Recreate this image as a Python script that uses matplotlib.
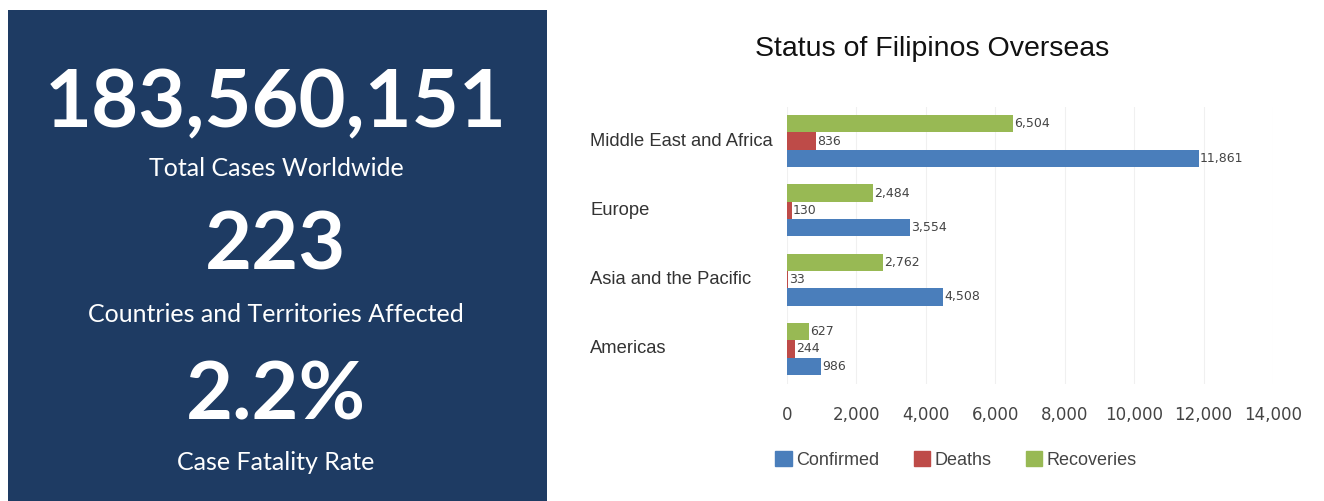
from matplotlib import pyplot as plt
import matplotlib.patches as mpatches
import numpy as np

# data
regions = ["Americas", "Asia and the Pacific", "Europe", "Middle East and Africa"]
confirmed = [986, 4508, 3554, 11861]
deaths = [244, 33, 130, 836]
recoveries = [627, 2762, 2484, 6504]
series_names = ["Confirmed", "Deaths", "Recoveries"]
colors = ["#4a7ebb", "#be4b48", "#98b954"]

big_numbers = ["183,560,151", "223", "2.2%"]
big_captions = ["Total Cases Worldwide", "Countries and Territories Affected", "Case Fatality Rate"]

W, H = 1324, 501
fig = plt.figure(figsize=(W / 100, H / 100), dpi=100)
fig.patch.set_facecolor("white")

narrow = ["Liberation Sans", "DejaVu Sans"]

# left dark panel
panel = fig.add_axes([8 / W, 0, (547 - 8) / W, (501 - 10) / H])
panel.set_facecolor("#1e3b63")
panel.set_xticks([])
panel.set_yticks([])
for s in panel.spines.values():
    s.set_visible(False)

num_y = [104, 247, 397]
cap_y = [168, 315, 462]
for num, cap, ny, cy in zip(big_numbers, big_captions, num_y, cap_y):
    fig.text(276 / W, 1 - ny / H, num, color="white", fontsize=58.5, fontweight="bold",
             family=["Lato", "DejaVu Sans"], ha="center", va="center")
    fig.text(276 / W, 1 - cy / H, cap, color="white", fontsize=18,
             family=["Lato", "DejaVu Sans"], ha="center", va="center")

# bar chart
x0, x1 = 787, 1273
ytop, ybot = 106.5, 383.5
ax = fig.add_axes([x0 / W, 1 - ybot / H, (x1 - x0) / W, (ybot - ytop) / H])
y = np.arange(len(regions))
h = 0.25
for i, (vals, name, c) in enumerate(zip([confirmed, deaths, recoveries], series_names, colors)):
    bars = ax.barh(y + (i - 1) * h, vals, height=h, color=c, label=name, zorder=2)
    for b, v in zip(bars, vals):
        ax.text(b.get_width() + 30, b.get_y() + h / 2, f"{v:,}", va="center", ha="left",
                fontsize=9, color="#444444", family=["DejaVu Sans"])

ax.set_xlim(0, 14000)
ax.set_ylim(-0.5, 3.5)
ax.set_xticks(np.arange(0, 14001, 2000))
ax.set_xticklabels([f"{t:,}" for t in range(0, 14001, 2000)])
ax.tick_params(axis="x", length=0, pad=16, labelsize=12, labelcolor="#444444")
ax.set_yticks([])
for s in ax.spines.values():
    s.set_visible(False)
ax.grid(axis="x", color="#f0f0f0", linewidth=0.8, zorder=0)

for yy, name in zip(y, regions):
    ax.text(-0.405, yy, name, transform=ax.get_yaxis_transform(), ha="left", va="center",
            fontsize=13.2, color="#333333", family=narrow)

fig.text(932 / W, 1 - 49 / H, "Status of Filipinos Overseas", ha="center", va="center",
         fontsize=20.5, color="#111111", family=narrow)

handles = [mpatches.Patch(color=c, label=n) for c, n in zip(colors, series_names)]
fig.legend(handles=handles, loc="center", bbox_to_anchor=(956 / W, 1 - 460 / H), ncol=3,
           frameon=False, prop={"family": narrow, "size": 13}, handlelength=0.9,
           handleheight=0.9, handletextpad=0.25, columnspacing=1.9, labelcolor="#444444")

fig.savefig("out.png", dpi=100)
